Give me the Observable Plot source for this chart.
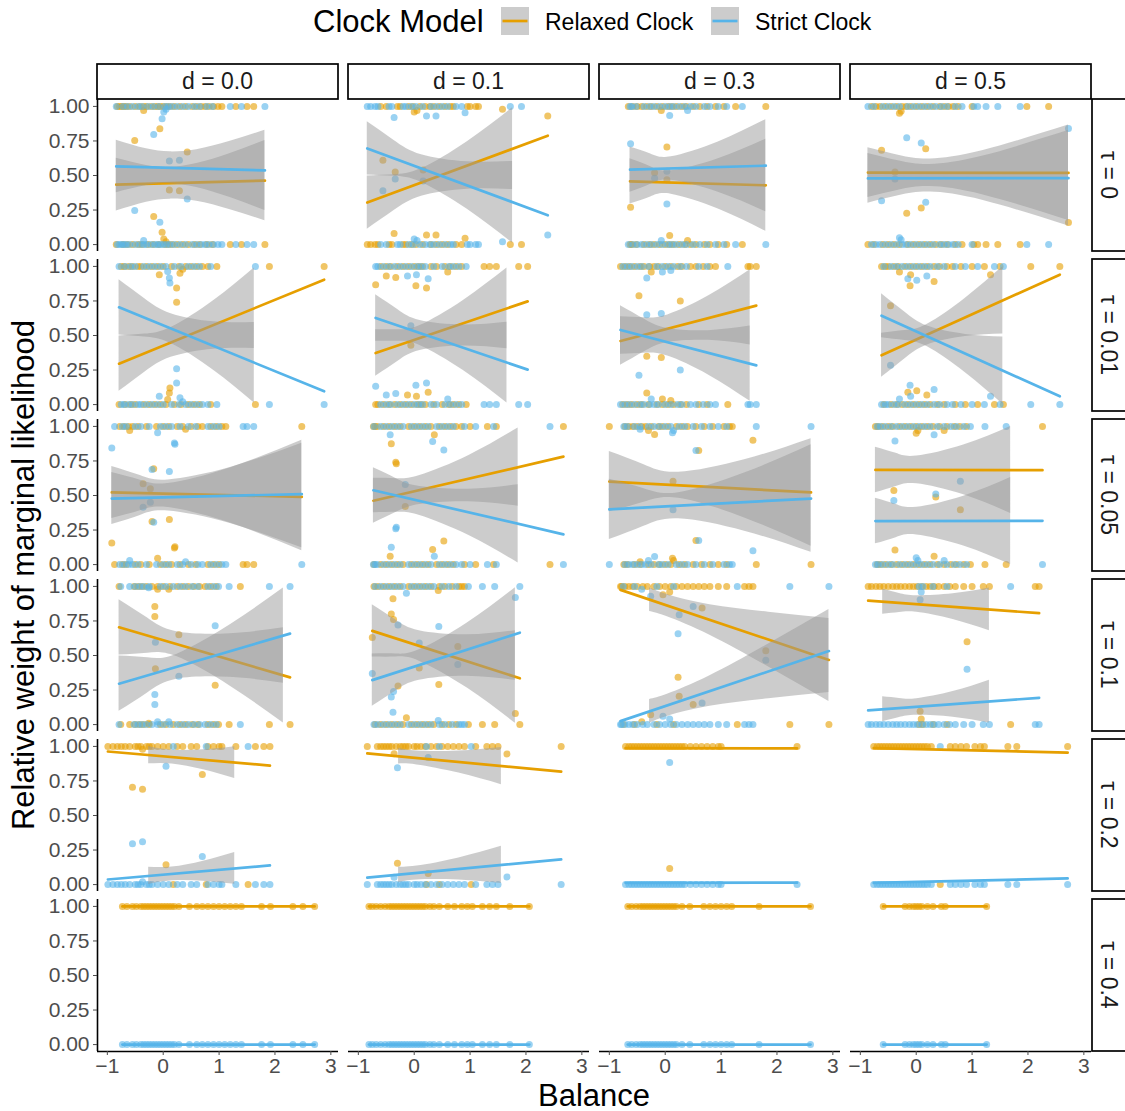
<!DOCTYPE html>
<html><head><meta charset="utf-8">
<script src="https://cdn.jsdelivr.net/npm/d3@7"></script>
<script src="https://cdn.jsdelivr.net/npm/@observablehq/plot@0.6"></script>
<style>
body{margin:0;background:#fff;font-family:"Liberation Sans",Arial,Helvetica,sans-serif;}
#wrap{width:1125px;}
svg{display:block;}
</style></head><body><div id="wrap"><svg id="legend" width="1125" height="50"></svg><div id="chart"></div></div>
<script>
// ---------- categories ----------
const tauLabels = ["τ = 0","τ = 0.01","τ = 0.05","τ = 0.1","τ = 0.2","τ = 0.4"];
const dLabels = ["d = 0.0","d = 0.1","d = 0.3","d = 0.5"];
const modelLabels = ["Relaxed Clock","Strict Clock"];
const xTicks = [-1,0,1,2,3];
const yTicks = [0,0.25,0.5,0.75,1];

// ---------- observations (Balance) where Relaxed weight = 1 (R), = 0 (S), and intermediate [Balance, relaxed weight] (M) ----------
const t0_d00_R=[-0.82,-0.78,-0.74,-0.70,-0.66,-0.6,-0.5,-0.42,-0.35,-0.3,-0.22,-0.15,-0.1,-0.05,0.0,0.06,0.12,0.2,0.3,0.4,0.52,0.6,0.68,0.75,0.82,0.9,0.98,1.05,1.3,1.5,1.62];
const t0_d00_S=[-0.84,-0.72,-0.64,-0.55,-0.45,-0.38,-0.27,-0.18,-0.08,0.03,0.09,0.16,0.25,0.35,0.45,0.56,0.65,0.78,0.88,1.2,1.4,1.82];
const t0_d00_M=[[-0.51,0.754],[-0.17,0.203],[-0.06,0.838],[-0.02,0.09],[0.01,0.04],[0.05,0.02],[-0.35,0.97],[0.11,0.395],[0.29,0.39],[0.43,0.67]];
const t0_d01_R=[-0.6,-0.5,-0.3,-0.25,-0.1,-0.02,0.1,0.2,0.28,0.35,0.45,0.55,0.65,0.7,0.95,1.0,1.1,1.15];
const t0_d01_S=[-0.84,-0.78,-0.7,-0.65,-0.45,-0.4,-0.2,-0.15,-0.05,0.03,0.15,0.3,0.4,0.5,0.6,0.75,0.85,1.72,1.92];
const t0_d01_M=[[2.39,0.93],[1.58,0.98],[0.91,0.045],[-0.36,0.08],[0.22,0.07],[0.39,0.07],[-0.56,0.61],[-0.34,0.525],[0.16,0.54],[0.05,0.97],[0.0,0.96]];
const t0_d03_R=[-0.66,-0.58,-0.5,-0.42,-0.33,-0.25,-0.15,-0.05,0.05,0.12,0.2,0.3,0.38,0.5,0.62,0.75,0.9,1.05,1.26,1.8];
const t0_d03_S=[-0.63,-0.6,-0.52,-0.38,-0.28,-0.2,-0.1,0.0,0.08,0.15,0.25,0.35,0.45,0.55,0.7,0.8,0.95,1.1,1.38];
const t0_d03_M=[[0.08,0.065],[-0.62,0.27],[0.03,0.706],[-0.19,0.52],[0.03,0.47],[-0.07,0.97],[0.4,0.03]];
const t0_d05_R=[-0.8,-0.72,-0.65,-0.55,-0.45,-0.35,-0.25,-0.18,-0.1,0.0,0.1,0.2,0.3,0.42,0.5,0.58,0.66,0.75,1.0,1.98,2.37];
const t0_d05_S=[-0.864,-0.76,-0.6,-0.5,-0.4,-0.3,-0.15,-0.05,0.05,0.15,0.25,0.35,0.45,0.55,0.7,0.82,1.03,1.1,1.25,1.46,1.86];
const t0_d05_M=[[2.725,0.16],[-0.17,0.227],[0.09,0.265],[0.17,0.694],[-0.62,0.682],[-0.38,0.525],[-0.27,0.965],[-0.3,0.95]];

const t001_d00_R=[-0.75,-0.7,-0.62,-0.55,-0.45,-0.4,-0.3,-0.2,-0.1,0.0,0.15,0.28,0.4,0.5,0.6,0.7,0.8,0.96,1.9,2.88];
const t001_d00_S=[-0.79,-0.68,-0.58,-0.5,-0.35,-0.25,-0.15,-0.05,0.05,0.2,0.32,0.45,0.55,0.65,0.85,1.65];
const t001_d00_M=[[0.08,0.036],[0.11,0.084],[0.12,0.12],[0.24,0.843],[0.24,0.74],[-0.07,0.94],[0.3,0.95],[0.35,0.98]];
const t001_d01_R=[-0.6,-0.5,-0.42,-0.3,-0.2,-0.1,0.0,0.08,0.15,0.3,0.4,0.55,0.65,0.75,0.85,1.25,1.35,1.47,1.87,2.03];
const t001_d01_S=[-0.69,-0.65,-0.55,-0.45,-0.35,-0.25,-0.15,-0.05,0.05,0.12,0.2,0.35,0.5,0.62,0.7,0.8,0.93];
const t001_d01_M=[[-0.69,0.867],[0.03,0.86],[0.22,0.843],[-0.33,0.92],[0.04,0.06],[-0.12,0.07],[0.25,0.09],[-0.06,0.43],[0.6,0.96],[-0.5,0.93]];
const t001_d03_R=[-0.8,-0.72,-0.64,-0.55,-0.45,-0.38,-0.28,-0.2,-0.12,0.0,0.1,0.22,0.3,0.45,0.55,0.68,0.8,0.9,1.48,1.52,1.63];
const t001_d03_S=[-0.76,-0.68,-0.6,-0.5,-0.42,-0.3,-0.15,-0.05,0.05,0.15,0.27,0.38,0.6,0.75,1.12];
const t001_d03_M=[[-0.33,0.084],[-0.47,0.788],[0.27,0.75],[-0.33,0.35],[-0.07,0.34],[-0.25,0.96],[-0.05,0.04],[0.1,0.03]];
const t001_d05_R=[-0.62,-0.55,-0.5,-0.4,-0.32,-0.2,-0.1,0.0,0.1,0.2,0.32,0.42,0.55,0.65,0.8,1.0,1.22,1.5,2.05,2.57];
const t001_d05_S=[-0.58,-0.45,-0.35,-0.25,-0.15,-0.05,0.05,0.15,0.25,0.38,0.5,0.7,0.88,1.1,1.4,1.56];
const t001_d05_M=[[-0.11,0.86],[0.32,0.89],[0.01,0.1],[0.19,0.07],[-0.46,0.716],[1.33,0.94],[-0.15,0.09],[-0.3,0.96],[-0.1,0.94]];

const t005_d00_R=[-0.78,-0.7,-0.62,-0.55,-0.45,-0.3,-0.12,0.0,0.1,0.25,0.35,0.5,0.62,0.7,0.85,0.95,1.05,1.12,2.48];
const t005_d00_S=[-0.87,-0.73,-0.66,-0.5,-0.4,-0.25,-0.05,0.05,0.15,0.3,0.45,0.58,0.8,0.9,1.0,1.43,1.5,1.62];
const t005_d00_M=[[-0.92,0.157],[-0.1,0.046],[0.2,0.12],[0.21,0.13],[-0.17,0.693],[-0.2,0.312],[-0.36,0.585],[-0.23,0.548],[0.11,0.326],[-0.6,0.97],[0.4,0.98]];
const t005_d01_R=[-0.73,-0.7,-0.66,-0.55,-0.45,-0.35,-0.25,-0.1,0.0,0.1,0.2,0.3,0.45,0.55,0.65,0.75,0.85,1.0,1.31,1.47,2.67];
const t005_d01_S=[-0.72,-0.6,-0.5,-0.4,-0.3,-0.2,-0.05,0.05,0.15,0.25,0.4,0.5,0.6,0.7,0.9,1.1,1.42,2.43];
const t005_d01_M=[[-0.41,0.875],[-0.33,0.74],[-0.32,0.73],[0.36,0.94],[0.33,0.11],[0.53,0.17],[-0.16,0.42],[-0.43,0.06]];
const t005_d03_R=[-1.0,-0.72,-0.65,-0.58,-0.5,-0.42,-0.35,-0.25,-0.12,-0.05,0.05,0.2,0.3,0.4,0.55,0.7,0.85,1.05,1.15,1.2];
const t005_d03_S=[-0.74,-0.68,-0.55,-0.45,-0.3,-0.2,-0.1,0.0,0.1,0.25,0.35,0.5,0.65,0.8,0.95,1.1,1.63,2.61];
const t005_d03_M=[[-0.19,0.942],[0.13,0.046],[0.15,0.03],[1.57,0.9],[0.55,0.174],[0.6,0.826],[0.14,0.604],[-0.3,0.97],[-0.45,0.02]];
const t005_d05_R=[-0.73,-0.68,-0.6,-0.5,-0.42,-0.3,-0.2,-0.1,0.0,0.1,0.2,0.3,0.42,0.55,0.68,0.78,0.9,2.26];
const t005_d05_S=[-0.7,-0.64,-0.55,-0.45,-0.35,-0.25,-0.15,-0.05,0.05,0.15,0.25,0.38,0.5,0.62,0.72,0.85,0.97,1.23,1.61];
const t005_d05_M=[[-0.38,0.106],[0.32,0.06],[0.79,0.396],[-0.4,0.536],[0.35,0.49],[0.03,0.97],[0.0,0.95],[0.5,0.97]];

const t01_d00_R=[-0.79,-0.52,-0.45,-0.38,-0.3,-0.2,-0.1,0.0,0.12,0.25,0.35,0.45,0.55,0.65,0.75,0.85,0.95,1.38];
const t01_d00_S=[-0.76,-0.6,-0.5,-0.42,-0.35,-0.25,-0.05,0.05,0.18,0.3,0.4,0.52,0.62,0.8,0.9,0.99,1.18,1.9,2.27];
const t01_d00_M=[[-0.15,0.855],[-0.15,0.783],[-0.14,0.405],[0.28,0.65],[0.93,0.284],[-0.26,0.01],[-0.1,0.98],[0.1,0.98]];
const t01_d01_R=[-0.72,-0.65,-0.55,-0.45,-0.35,-0.25,-0.1,0.0,0.1,0.2,0.3,0.45,0.55,0.68,0.8,0.85,0.9];
const t01_d01_S=[-0.7,-0.6,-0.5,-0.4,-0.3,-0.2,-0.05,0.05,0.15,0.25,0.35,0.5,0.62,0.75,0.97,1.22,1.44,1.89];
const t01_d01_M=[[-0.75,0.63],[-0.38,0.91],[-0.41,0.8],[-0.37,0.76],[-0.29,0.28],[-0.14,0.05],[0.09,0.41],[0.44,0.29],[0.78,0.566],[1.81,0.08],[0.43,0.97]];
const t01_d03_R=[-0.8,-0.78,-0.72,-0.65,-0.58,-0.5,-0.4,-0.32,-0.2,-0.1,0.0,0.1,0.2,0.3,0.4,0.5,0.6,0.7,0.8,0.95,1.1,1.42,1.5,1.57];
const t01_d03_S=[-0.75,-0.55,-0.15,0.15,1.29,2.23,2.93];
const t01_d03_M=[[-0.26,0.072],[-0.04,0.94],[0.08,0.96],[0.25,0.205],[0.23,0.343],[0.5,0.145],[0.66,0.843],[1.8,0.535],[-0.42,0.02]];
const t01_d05_R=[-0.86,-0.8,-0.72,-0.65,-0.58,-0.5,-0.42,-0.35,-0.28,-0.2,-0.12,-0.05,0.02,0.1,0.18,0.25,0.32,0.4,0.5,0.6,0.7,0.85,1.0,1.2,1.31,2.13,2.2];
const t01_d05_S=[0.05,0.12,0.3,0.55,1.69];
const t01_d05_M=[[0.07,0.097],[0.91,0.6],[0.09,0.04]];

const t02_d00_R=[-0.99,-0.9,-0.82,-0.75,-0.68,-0.6,-0.5,-0.45,-0.4,-0.3,-0.25,-0.2,-0.1,0.0,0.1,0.25,0.35,0.5,0.6,0.8,0.9,1.0,1.05,1.3,1.65,1.8,1.91];
const t02_d00_S=[0.18,0.77,1.52];
const t02_d00_M=[[-0.55,0.705],[-0.37,0.69],[0.7,0.797],[0.05,0.143],[-0.37,0.98]];
const t02_d01_R=[-0.84,-0.66,-0.6,-0.55,-0.5,-0.45,-0.4,-0.32,-0.25,-0.2,-0.15,-0.1,0.0,0.05,0.12,0.2,0.3,0.4,0.5,0.6,0.7,0.8,0.9,1.1,1.3,1.4,1.5,2.63];
const t02_d01_S=[0.22,0.45,1.02];
const t02_d01_M=[[-0.36,0.946],[-0.3,0.155],[0.25,0.08],[1.66,0.945]];
const t02_d03_R=[-0.71,-0.65,-0.6,-0.55,-0.5,-0.45,-0.4,-0.35,-0.3,-0.25,-0.2,-0.15,-0.1,-0.05,0.0,0.05,0.1,0.15,0.2,0.25,0.3,0.35,0.45,0.55,0.65,0.75,0.85,0.95,1.0,2.36];
const t02_d03_S=[];
const t02_d03_M=[[0.08,0.116]];
const t02_d05_R=[-0.76,-0.7,-0.65,-0.6,-0.55,-0.5,-0.45,-0.4,-0.35,-0.3,-0.25,-0.2,-0.15,-0.1,-0.05,0.0,0.05,0.1,0.15,0.2,0.27,0.61,0.7,0.8,0.9,1.05,1.15,1.22,1.64,1.8,2.71];
const t02_d05_S=[0.43];
const t02_d05_M=[];

const t04_d00_R=[-0.73,-0.65,-0.55,-0.48,-0.4,-0.35,-0.3,-0.25,-0.2,-0.15,-0.1,-0.05,0.0,0.05,0.1,0.15,0.2,0.28,0.47,0.6,0.7,0.8,0.9,1.0,1.1,1.2,1.3,1.4,1.76,1.92,2.32,2.5,2.71];
const t04_d01_R=[-0.81,-0.75,-0.68,-0.6,-0.52,-0.45,-0.4,-0.35,-0.3,-0.25,-0.2,-0.15,-0.1,-0.05,0.0,0.05,0.1,0.15,0.2,0.28,0.35,0.45,0.6,0.72,0.85,0.95,1.04,1.22,1.35,1.47,1.71,2.06];
const t04_d03_R=[-0.67,-0.6,-0.52,-0.45,-0.4,-0.35,-0.3,-0.25,-0.2,-0.15,-0.1,-0.05,0.0,0.05,0.1,0.15,0.2,0.3,0.44,0.69,0.8,0.9,1.0,1.1,1.19,1.68,2.6];
const t04_d05_R=[-0.59,-0.2,-0.12,-0.05,0.0,0.05,0.1,0.2,0.3,0.45,0.52,1.26];

// ---------- fitted Relaxed-clock lines: [tau, d, x start, y start, x end, y end] ----------
const fitLines = [
 ["τ = 0","d = 0.0",-0.84,0.434,1.82,0.463],
 ["τ = 0","d = 0.1",-0.84,0.304,2.39,0.788],
 ["τ = 0","d = 0.3",-0.63,0.458,1.80,0.429],
 ["τ = 0","d = 0.5",-0.864,0.521,2.725,0.519],
 ["τ = 0.01","d = 0.0",-0.79,0.296,2.88,0.904],
 ["τ = 0.01","d = 0.1",-0.69,0.373,2.03,0.747],
 ["τ = 0.01","d = 0.3",-0.80,0.46,1.63,0.716],
 ["τ = 0.01","d = 0.5",-0.62,0.357,2.57,0.94],
 ["τ = 0.05","d = 0.0",-0.92,0.522,2.48,0.49],
 ["τ = 0.05","d = 0.1",-0.73,0.462,2.67,0.781],
 ["τ = 0.05","d = 0.3",-1.0,0.601,2.61,0.522],
 ["τ = 0.05","d = 0.5",-0.73,0.685,2.26,0.683],
 ["τ = 0.1","d = 0.0",-0.79,0.704,2.27,0.342],
 ["τ = 0.1","d = 0.1",-0.75,0.678,1.89,0.335],
 ["τ = 0.1","d = 0.3",-0.80,0.975,2.93,0.468],
 ["τ = 0.1","d = 0.5",-0.86,0.897,2.20,0.806],
 ["τ = 0.2","d = 0.0",-0.99,0.963,1.91,0.861],
 ["τ = 0.2","d = 0.1",-0.84,0.95,2.63,0.817],
 ["τ = 0.2","d = 0.3",-0.71,0.987,2.36,0.986],
 ["τ = 0.2","d = 0.5",-0.76,0.988,2.71,0.955],
 ["τ = 0.4","d = 0.0",-0.73,1,2.71,1],
 ["τ = 0.4","d = 0.1",-0.81,1,2.06,1],
 ["τ = 0.4","d = 0.3",-0.67,1,2.6,1],
 ["τ = 0.4","d = 0.5",-0.59,1,1.26,1]
];

// ---------- visible confidence bands of the Relaxed fit: [x, lower, upper] ----------
const t0_d00_band=[[-0.84,0.244,0.624],[-0.3,0.307,0.573],[0.12,0.329,0.559],[0.6,0.313,0.587],[1.2,0.252,0.660],[1.82,0.173,0.753]];
const t0_d01_band=[[-0.84,0.111,0.497],[-0.36,0.246,0.506],[0.13,0.35,0.55],[0.95,0.401,0.745],[1.76,0.398,0.99]];
const t0_d03_band=[[-0.63,0.294,0.622],[-0.26,0.344,0.564],[0.107,0.364,0.534],[0.95,0.257,0.621],[1.8,0.096,0.762]];
const t0_d05_band=[[-0.864,0.34,0.70],[-0.3,0.395,0.645],[0.255,0.42,0.62],[1.2,0.359,0.681],[2.725,0.175,0.865]];
const t001_d00_band=[[-0.79,0.096,0.496],[-0.33,0.234,0.510],[0.14,0.342,0.558],[0.9,0.401,0.751],[1.63,0.406,0.988]];
const t001_d01_band=[[-0.69,0.205,0.541],[-0.29,0.314,0.542],[0.104,0.392,0.572],[0.88,0.424,0.754],[1.66,0.404,0.988]];
const t001_d03_band=[[-0.8,0.284,0.636],[-0.38,0.380,0.628],[0.045,0.449,0.649],[0.78,0.465,0.787],[1.52,0.432,0.976]];
const t001_d05_band=[[-0.62,0.197,0.517],[-0.2,0.332,0.536],[0.2,0.432,0.582],[0.88,0.492,0.770],[1.55,0.511,0.997]];
const t005_d00_band=[[-0.92,0.334,0.710],[-0.41,0.390,0.644],[0.09,0.413,0.613],[1.2,0.301,0.703],[2.48,0.101,0.879]];
const t005_d01_band=[[-0.73,0.300,0.624],[-0.32,0.378,0.622],[0.1,0.435,0.645],[0.98,0.454,0.790],[1.86,0.422,0.988]];
const t005_d03_band=[[-1,0.383,0.819],[-0.38,0.451,0.723],[0.24,0.480,0.668],[1.42,0.338,0.758],[2.61,0.133,0.911]];
const t005_d05_band=[[-0.73,0.520,0.850],[-0.36,0.565,0.805],[0.01,0.585,0.785],[0.85,0.505,0.865],[1.69,0.370,1.0]];
const t01_d00_band=[[-0.79,0.504,0.904],[-0.28,0.517,0.771],[0.24,0.492,0.672],[1.2,0.278,0.658],[2.15,0.012,0.700]];
const t01_d01_band=[[-0.75,0.489,0.867],[-0.33,0.489,0.757],[0.09,0.459,0.679],[0.95,0.264,0.650],[1.81,0.010,0.680]];
const t01_d03_band=[[-0.28,0.818,0.990],[0.05,0.779,0.939],[0.8,0.647,0.867],[1.85,0.417,0.813],[2.93,0.168,0.768]];
const t01_d05_band=[[-0.6,0.799,0.979],[-0.3,0.811,0.949],[0.01,0.813,0.933],[0.66,0.761,0.947],[1.31,0.679,0.989]];
const t02_d00_band=[[-0.26,0.874,1.0],[0.16,0.873,0.973],[0.72,0.831,0.975],[1.28,0.768,0.998]];
const t02_d01_band=[[-0.28,0.872,0.986],[0.05,0.866,0.966],[0.8,0.807,0.967],[1.56,0.723,0.993]];

// ---------- panel registry ----------
const panels = [
 ["τ = 0","d = 0.0",t0_d00_R,t0_d00_S,t0_d00_M,t0_d00_band],
 ["τ = 0","d = 0.1",t0_d01_R,t0_d01_S,t0_d01_M,t0_d01_band],
 ["τ = 0","d = 0.3",t0_d03_R,t0_d03_S,t0_d03_M,t0_d03_band],
 ["τ = 0","d = 0.5",t0_d05_R,t0_d05_S,t0_d05_M,t0_d05_band],
 ["τ = 0.01","d = 0.0",t001_d00_R,t001_d00_S,t001_d00_M,t001_d00_band],
 ["τ = 0.01","d = 0.1",t001_d01_R,t001_d01_S,t001_d01_M,t001_d01_band],
 ["τ = 0.01","d = 0.3",t001_d03_R,t001_d03_S,t001_d03_M,t001_d03_band],
 ["τ = 0.01","d = 0.5",t001_d05_R,t001_d05_S,t001_d05_M,t001_d05_band],
 ["τ = 0.05","d = 0.0",t005_d00_R,t005_d00_S,t005_d00_M,t005_d00_band],
 ["τ = 0.05","d = 0.1",t005_d01_R,t005_d01_S,t005_d01_M,t005_d01_band],
 ["τ = 0.05","d = 0.3",t005_d03_R,t005_d03_S,t005_d03_M,t005_d03_band],
 ["τ = 0.05","d = 0.5",t005_d05_R,t005_d05_S,t005_d05_M,t005_d05_band],
 ["τ = 0.1","d = 0.0",t01_d00_R,t01_d00_S,t01_d00_M,t01_d00_band],
 ["τ = 0.1","d = 0.1",t01_d01_R,t01_d01_S,t01_d01_M,t01_d01_band],
 ["τ = 0.1","d = 0.3",t01_d03_R,t01_d03_S,t01_d03_M,t01_d03_band],
 ["τ = 0.1","d = 0.5",t01_d05_R,t01_d05_S,t01_d05_M,t01_d05_band],
 ["τ = 0.2","d = 0.0",t02_d00_R,t02_d00_S,t02_d00_M,t02_d00_band],
 ["τ = 0.2","d = 0.1",t02_d01_R,t02_d01_S,t02_d01_M,t02_d01_band],
 ["τ = 0.2","d = 0.3",t02_d03_R,t02_d03_S,t02_d03_M,[]],
 ["τ = 0.2","d = 0.5",t02_d05_R,t02_d05_S,t02_d05_M,[]],
 ["τ = 0.4","d = 0.0",t04_d00_R,[],[],[]],
 ["τ = 0.4","d = 0.1",t04_d01_R,[],[],[]],
 ["τ = 0.4","d = 0.3",t04_d03_R,[],[],[]],
 ["τ = 0.4","d = 0.5",t04_d05_R,[],[],[]]
];

const ORANGE = "#E69F00", BLUE = "#56B4E9";

// build tidy tables (strict weight = 1 - relaxed weight)
const relaxedPts = [], strictPts = [], relaxedBand = [], strictBand = [], relaxedLine = [], strictLine = [];
for (const [tau, d, R, S, M, band] of panels) {
  for (const x of R) { relaxedPts.push({tau, d, x, y: 1}); strictPts.push({tau, d, x, y: 0}); }
  for (const x of S) { relaxedPts.push({tau, d, x, y: 0}); strictPts.push({tau, d, x, y: 1}); }
  for (const [x, w] of M) { relaxedPts.push({tau, d, x, y: w}); strictPts.push({tau, d, x, y: 1 - w}); }
  for (const [x, lo, hi] of band) {
    relaxedBand.push({tau, d, key: tau + d, x, lo, hi});
    strictBand.push({tau, d, key: tau + d, x, lo: 1 - hi, hi: 1 - lo});
  }
}
for (const [tau, d, x0, y0, x1, y1] of fitLines) {
  relaxedLine.push({tau, d, key: tau + d, x: x0, y: y0}, {tau, d, key: tau + d, x: x1, y: y1});
  strictLine.push({tau, d, key: tau + d, x: x0, y: 1 - y0}, {tau, d, key: tau + d, x: x1, y: 1 - y1});
}

const xDom = [-1.176, 3.137], yDom = [-0.05, 1.05];
const leftAxisRows = tauLabels.map(t => ({tau: t, d: dLabels[0]}));
const bottomAxisRows = dLabels.map(d => ({tau: tauLabels[tauLabels.length - 1], d}));
const FONT = "Liberation Sans, Arial, Helvetica, sans-serif";

const plot = Plot.plot({
  width: 1125, height: 1061,
  marginTop: 47, marginRight: 33, marginBottom: 57, marginLeft: 96.5,
  style: {fontFamily: FONT, background: "white", overflow: "visible"},
  x: {domain: xDom},
  y: {domain: yDom},
  fx: {domain: dLabels, paddingInner: 0.038, paddingOuter: 0, axis: null},
  fy: {domain: tauLabels, paddingInner: 0.049, paddingOuter: 0, axis: null},
  marks: [
    Plot.dot(relaxedPts, {x: "x", y: "y", fx: "d", fy: "tau", r: 3.5, fill: ORANGE, fillOpacity: 0.6}),
    Plot.dot(strictPts, {x: "x", y: "y", fx: "d", fy: "tau", r: 3.5, fill: BLUE, fillOpacity: 0.6}),
    Plot.areaY(relaxedBand, {x: "x", y1: "lo", y2: "hi", fx: "d", fy: "tau", z: "key", fill: "#999999", fillOpacity: 0.5, curve: "natural"}),
    Plot.line(relaxedLine, {x: "x", y: "y", fx: "d", fy: "tau", z: "key", stroke: ORANGE, strokeWidth: 2.7}),
    Plot.areaY(strictBand, {x: "x", y1: "lo", y2: "hi", fx: "d", fy: "tau", z: "key", fill: "#999999", fillOpacity: 0.5, curve: "natural"}),
    Plot.line(strictLine, {x: "x", y: "y", fx: "d", fy: "tau", z: "key", stroke: BLUE, strokeWidth: 2.7}),
    Plot.ruleX(leftAxisRows, {x: () => xDom[0], fx: "d", fy: "tau", stroke: "black", strokeWidth: 1.6}),
    Plot.ruleY(bottomAxisRows, {y: () => yDom[0], fx: "d", fy: "tau", stroke: "black", strokeWidth: 1.6}),
    Plot.axisX({ticks: xTicks, tickFormat: d3.format("d"), tickSize: 4, tickPadding: 3, fontSize: 21, color: "#4d4d4d", label: null}),
    Plot.axisY({ticks: yTicks, tickFormat: d3.format(".2f"), tickSize: 4, tickPadding: 4, fontSize: 21, color: "#4d4d4d", label: null})
  ]
});
document.getElementById("chart").appendChild(plot);

// ---------- strips (facet labels) ----------
function bandOf(s) {
  const b = d3.scaleBand().domain(s.domain).range(s.range)
    .paddingInner(s.paddingInner ?? s.padding ?? 0)
    .paddingOuter(s.paddingOuter ?? s.padding ?? 0)
    .align(s.align ?? 0.5);
  if (s.round) b.round(true);
  return b;
}
const bx = bandOf(plot.scale("fx")), by = bandOf(plot.scale("fy"));
const svg = d3.select(plot);
const g = svg.append("g").attr("font-family", FONT);
const panelTop = by(tauLabels[0]);
const panelRight = bx(dLabels[dLabels.length - 1]) + bx.bandwidth();
for (const d of dLabels) {
  const x0 = bx(d), w = bx.bandwidth();
  g.append("rect").attr("x", x0).attr("y", panelTop - 35).attr("width", w).attr("height", 35)
    .attr("fill", "white").attr("stroke", "black").attr("stroke-width", 1.7);
  g.append("text").attr("x", x0 + w / 2).attr("y", panelTop - 18.5).attr("dy", "0.35em")
    .attr("text-anchor", "middle").attr("font-size", 23).attr("fill", "#1a1a1a").text(d);
}
for (const t of tauLabels) {
  const y0 = by(t), h = by.bandwidth();
  g.append("rect").attr("x", panelRight + 1).attr("y", y0).attr("width", 36).attr("height", h)
    .attr("fill", "white").attr("stroke", "black").attr("stroke-width", 1.7);
  g.append("text").attr("transform", `translate(${panelRight + 1 + 17},${y0 + h / 2}) rotate(90)`)
    .attr("dy", "0.35em").attr("text-anchor", "middle").attr("font-size", 23).attr("fill", "#1a1a1a").text(t);
}
// axis titles
g.append("text").attr("transform", `translate(34,${(panelTop + by(tauLabels[5]) + by.bandwidth()) / 2}) rotate(-90)`)
  .attr("text-anchor", "middle").attr("font-size", 31).attr("fill", "black").text("Relative weight of marginal likelihood");
g.append("text").attr("x", (bx(dLabels[0]) + panelRight) / 2).attr("y", 1056)
  .attr("text-anchor", "middle").attr("font-size", 31).attr("fill", "black").text("Balance");

// ---------- legend ----------
const lg = d3.select("#legend").attr("font-family", FONT);
lg.append("text").attr("x", 313).attr("y", 32).attr("font-size", 31).attr("fill", "black").text("Clock Model");
const keyX = [501, 711], keyTextX = [545, 755], keyColors = [ORANGE, BLUE];
modelLabels.forEach((m, i) => {
  lg.append("rect").attr("x", keyX[i]).attr("y", 7).attr("width", 28).attr("height", 28).attr("fill", "#999999").attr("fill-opacity", 0.5);
  lg.append("line").attr("x1", keyX[i] + 1.5).attr("x2", keyX[i] + 26.5).attr("y1", 21).attr("y2", 21).attr("stroke", keyColors[i]).attr("stroke-width", 2.7);
  lg.append("text").attr("x", keyTextX[i]).attr("y", 29.5).attr("font-size", 23).attr("fill", "black").text(m);
});
</script></body></html>
